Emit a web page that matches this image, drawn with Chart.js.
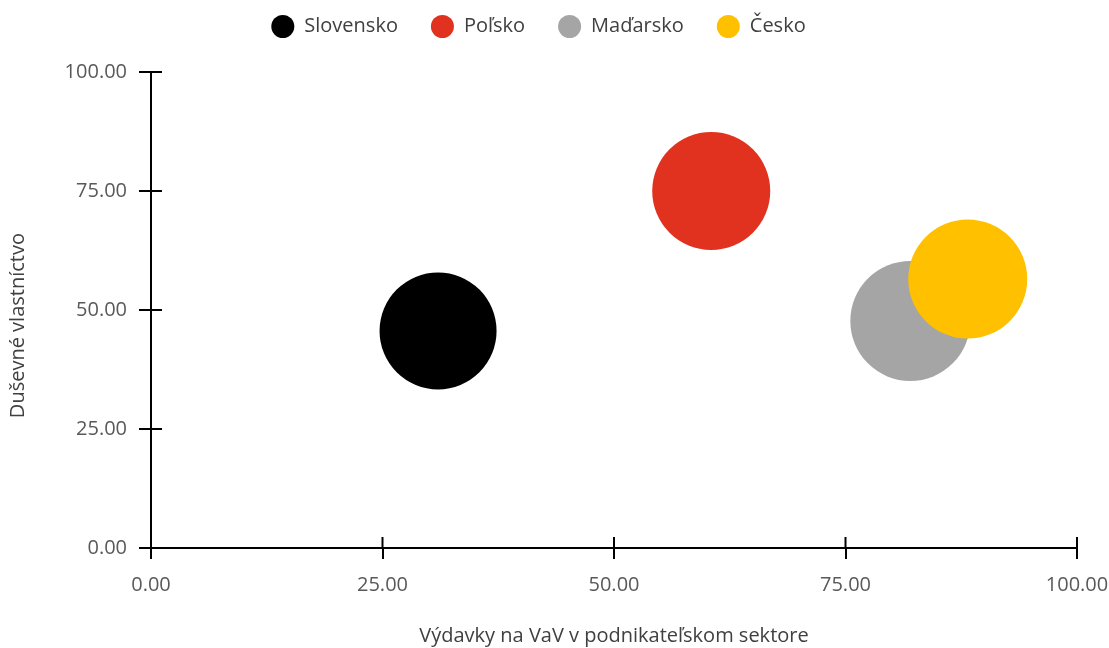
<!DOCTYPE html>
<html lang="sk">
<head>
<meta charset="utf-8">
<title>Duševné vlastníctvo a výdavky na VaV</title>
<script src="https://cdn.jsdelivr.net/npm/chart.js@4/dist/chart.umd.min.js"></script>
<style>
  html, body { margin: 0; padding: 0; background: #fff; }
  #wrap { width: 1109px; height: 648px; }
</style>
</head>
<body>
<div id="wrap"><canvas id="bubbleChart"></canvas></div>
<script>
// údaje grafu
const krajiny = ['Slovensko', 'Poľsko', 'Maďarsko', 'Česko'];
const vydavkyVaV = [31.0, 60.5, 82.0, 88.2];
const dusevneVlastnictvo = [45.6, 75.0, 47.7, 56.5];
const velkost = [58.5, 59, 60, 59.5];
const farby = ['#000000', '#E0321E', '#A5A5A5', '#FFC000'];
const osTicky = [0, 25, 50, 75, 100];

const pismo = "'Open Sans', 'Noto Sans', sans-serif";

// krátke ticky aj dovnútra grafu
const vnutorneTicky = {
    id: 'vnutorneTicky',
    beforeDatasetsDraw(chart) {
        const { ctx, scales: { x, y } } = chart;
        ctx.save();
        ctx.strokeStyle = '#000';
        ctx.lineWidth = 2;
        ctx.beginPath();
        x.ticks.forEach((t, i) => {
            const px = x.getPixelForTick(i);
            ctx.moveTo(px, x.top);
            ctx.lineTo(px, x.top - 11);
        });
        y.ticks.forEach((t, i) => {
            const py = y.getPixelForTick(i);
            ctx.moveTo(y.right, py);
            ctx.lineTo(y.right + 11, py);
        });
        ctx.stroke();
        ctx.restore();
    }
};

// medzera medzi legendou a grafom
const legendaMedzera = {
    id: 'legendaMedzera',
    beforeInit(chart) {
        const fit = chart.legend.fit;
        chart.legend.fit = function () {
            fit.call(this);
            this.height += 24;
        };
    }
};

const datasets = krajiny.map((nazov, i) => ({
    label: nazov,
    data: [{ x: vydavkyVaV[i], y: dusevneVlastnictvo[i], r: velkost[i] }],
    backgroundColor: farby[i],
    borderColor: farby[i],
    borderWidth: 0,
    hoverBorderWidth: 0,
    order: nazov === 'Maďarsko' ? 1 : 0
}));

const ctx = document.getElementById('bubbleChart').getContext('2d');
new Chart(ctx, {
    type: 'bubble',
    data: { datasets },
    plugins: [vnutorneTicky, legendaMedzera],
    options: {
        responsive: true,
        maintainAspectRatio: false,
        animation: false,
        layout: {
            autoPadding: false,
            padding: { top: -18, left: 0, right: 32, bottom: 0 }
        },
        plugins: {
            tooltip: { enabled: false },
            legend: {
                position: 'top',
                labels: {
                    font: { family: pismo, size: 20 },
                    color: '#404040',
                    boxWidth: 23,
                    boxHeight: 23,
                    useBorderRadius: true,
                    borderRadius: 11.5,
                    padding: 33,
                    sort: (a, b) => a.datasetIndex - b.datasetIndex
                }
            }
        },
        scales: {
            x: {
                type: 'linear',
                min: 0,
                max: 100,
                afterFit: s => {
                    s.height = 100;
                    s.paddingLeft = 0;
                    s.paddingRight = 0;
                },
                afterBuildTicks: s => { s.ticks = osTicky.map(v => ({ value: v })); },
                border: { display: true, color: '#000', width: 2 },
                grid: { drawOnChartArea: false, color: '#000', lineWidth: 2, tickLength: 11 },
                ticks: {
                    color: '#595959',
                    font: { family: pismo, size: 20 },
                    padding: 14,
                    callback: v => v.toFixed(2)
                },
                title: {
                    display: true,
                    text: 'Výdavky na VaV v podnikateľskom sektore',
                    color: '#404040',
                    font: { family: pismo, size: 20 },
                    padding: { top: 4, bottom: 0 }
                }
            },
            y: {
                type: 'linear',
                min: 0,
                max: 100,
                afterFit: s => { s.width = 151; },
                afterBuildTicks: s => { s.ticks = osTicky.map(v => ({ value: v })); },
                border: { display: true, color: '#000', width: 2 },
                grid: { drawOnChartArea: false, color: '#000', lineWidth: 2, tickLength: 12 },
                ticks: {
                    color: '#595959',
                    font: { family: pismo, size: 20 },
                    padding: 12,
                    callback: v => v.toFixed(2)
                },
                title: {
                    display: true,
                    // medzery na konci posúvajú nápis nižšie, do stredu plátna
                    text: 'Duševné vlastníctvo      ',
                    color: '#404040',
                    font: { family: pismo, size: 20 },
                    padding: { top: 6, bottom: 0 }
                }
            }
        }
    }
});
</script>
</body>
</html>
